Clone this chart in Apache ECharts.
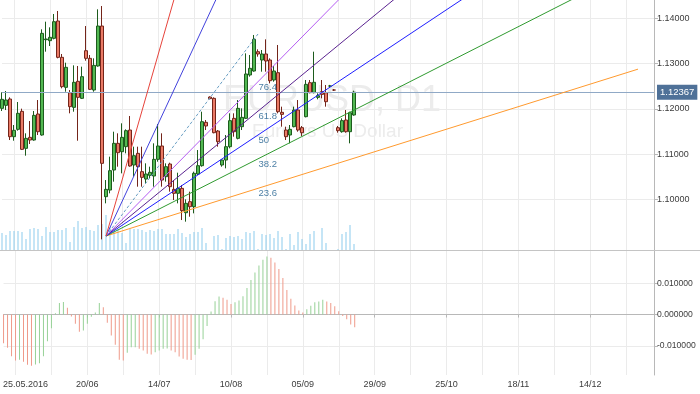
<!DOCTYPE html>
<html><head><meta charset="utf-8">
<script src="https://cdn.jsdelivr.net/npm/echarts@6/dist/echarts.min.js"></script>
<style>html,body{margin:0;padding:0;background:#fff}#c{width:700px;height:394px}</style>
</head><body><div id="c"></div>
<script>
// trading days (category axis), incl. empty future space
const categories = [
'2016-05-20',
'2016-05-23','2016-05-24','2016-05-25','2016-05-26','2016-05-27',
'2016-05-30','2016-05-31','2016-06-01','2016-06-02','2016-06-03',
'2016-06-06','2016-06-07','2016-06-08','2016-06-09','2016-06-10',
'2016-06-13','2016-06-14','2016-06-15','2016-06-16','2016-06-17',
'2016-06-20','2016-06-21','2016-06-22','2016-06-23','2016-06-24',
'2016-06-27','2016-06-28','2016-06-29','2016-06-30','2016-07-01',
'2016-07-04','2016-07-05','2016-07-06','2016-07-07','2016-07-08',
'2016-07-11','2016-07-12','2016-07-13','2016-07-14','2016-07-15',
'2016-07-18','2016-07-19','2016-07-20','2016-07-21','2016-07-22',
'2016-07-25','2016-07-26','2016-07-27','2016-07-28','2016-07-29',
'2016-08-02','2016-08-03','2016-08-04','2016-08-05',
'2016-08-08','2016-08-09','2016-08-10','2016-08-11','2016-08-12',
'2016-08-15','2016-08-16','2016-08-17','2016-08-18','2016-08-19',
'2016-08-22','2016-08-23','2016-08-24','2016-08-25','2016-08-26',
'2016-08-29','2016-08-30','2016-08-31','2016-09-01','2016-09-02',
'2016-09-05','2016-09-06','2016-09-07','2016-09-08','2016-09-09',
'2016-09-12','2016-09-13','2016-09-14','2016-09-15','2016-09-16',
'2016-09-19','2016-09-20','2016-09-21','2016-09-22','2016-09-23',
'2016-09-26','2016-09-27','2016-09-28','2016-09-29','2016-09-30',
'2016-10-03','2016-10-04','2016-10-05','2016-10-06','2016-10-07',
'2016-10-10','2016-10-11','2016-10-12','2016-10-13','2016-10-14',
'2016-10-17','2016-10-18','2016-10-19','2016-10-20','2016-10-21',
'2016-10-24','2016-10-25','2016-10-26','2016-10-27','2016-10-28',
'2016-10-31','2016-11-01','2016-11-02','2016-11-03','2016-11-04',
'2016-11-07','2016-11-08','2016-11-09','2016-11-10','2016-11-11',
'2016-11-14','2016-11-15','2016-11-16','2016-11-17','2016-11-18',
'2016-11-21','2016-11-22','2016-11-23','2016-11-24','2016-11-25',
'2016-11-28','2016-11-29','2016-11-30','2016-12-01','2016-12-02',
'2016-12-05','2016-12-06','2016-12-07','2016-12-08','2016-12-09',
'2016-12-12','2016-12-13','2016-12-14','2016-12-15','2016-12-16',
'2016-12-19','2016-12-20','2016-12-21','2016-12-22','2016-12-23',
'2016-12-26','2016-12-27','2016-12-28','2016-12-29','2016-12-30',
'2017-01-02','2017-01-03','2017-01-04','2017-01-05'
];

// [open, close, low, high]
const candles = [
[1.12010,1.12209,1.11951,1.12364],[1.12076,1.12194,1.11973,1.12393],[1.12216,1.11384,1.11310,1.12253],
[1.11384,1.11524,1.11295,1.11642],[1.11546,1.11900,1.11517,1.12150],[1.11944,1.11104,1.11089,1.12003],
[1.11126,1.11347,1.10964,1.11458],[1.11369,1.11310,1.11222,1.11730],[1.11310,1.11855,1.11295,1.11951],
[1.11885,1.11494,1.11421,1.12194],[1.11421,1.13667,1.11406,1.13756],[1.13527,1.13542,1.13262,1.13925],
[1.13505,1.13579,1.13387,1.13800],[1.13557,1.13925,1.13535,1.14095],[1.13940,1.13137,1.13115,1.14161],
[1.13137,1.12489,1.12452,1.13211],[1.12474,1.12916,1.12378,1.13019],[1.12356,1.12047,1.11900,1.12415],
[1.12032,1.12585,1.11936,1.12960],[1.12607,1.12253,1.11295,1.12946],[1.12231,1.12710,1.12216,1.12931],
[1.13284,1.13115,1.13063,1.13829],[1.13115,1.12430,1.12415,1.13189],[1.12415,1.12960,1.12378,1.13115],
[1.12946,1.13829,1.12931,1.14198],[1.13829,1.10795,1.09115,1.14271],[1.10058,1.10220,1.09911,1.10426],
[1.10205,1.10633,1.10132,1.10942],[1.10647,1.11237,1.10390,1.11494],[1.11237,1.11030,1.10721,1.11458],
[1.11052,1.11369,1.10574,1.11679],[1.11163,1.11517,1.11016,1.11546],[1.11531,1.10736,1.10721,1.11841],
[1.10758,1.10964,1.10500,1.11163],[1.11016,1.10721,1.10279,1.11163],[1.10611,1.10485,1.10279,1.11163],
[1.10448,1.10559,1.10353,1.10795],[1.10529,1.10596,1.10463,1.10721],[1.10515,1.10883,1.10279,1.11237],
[1.10883,1.11178,1.10831,1.11664],[1.11178,1.10426,1.10279,1.11458],[1.10500,1.10721,1.10390,1.10795],
[1.10780,1.10279,1.10169,1.10809],[1.10220,1.10132,1.09984,1.10426],[1.10132,1.10242,1.09911,1.10588],
[1.10242,1.09749,1.09542,1.10316],[1.09704,1.09911,1.09506,1.09999],[1.09948,1.09837,1.09616,1.10169],
[1.09837,1.10574,1.09690,1.10611],[1.10559,1.10743,1.10537,1.11089],[1.10743,1.11715,1.10721,1.11936],
[1.11701,1.11620,1.11531,1.11752],[1.12260,1.12224,1.12209,1.12275],[1.12231,1.11472,1.11458,1.12253],
[1.11509,1.11273,1.11163,1.11531],[1.10758,1.10868,1.10721,1.10883],[1.10868,1.11163,1.10684,1.11421],
[1.11163,1.11738,1.11126,1.11900],[1.11789,1.11494,1.11384,1.11900],[1.11347,1.12010,1.11325,1.12194],
[1.11605,1.11811,1.11531,1.12010],[1.11789,1.12769,1.11774,1.13225],[1.12747,1.12894,1.12710,1.13189],
[1.12835,1.13535,1.12820,1.13631],[1.13262,1.13211,1.13152,1.13314],[1.13078,1.13211,1.12820,1.13299],
[1.13211,1.13056,1.12820,1.13535],[1.13078,1.12621,1.12562,1.13115],[1.12636,1.12835,1.12599,1.12946],
[1.12798,1.11936,1.11900,1.13410],[1.11922,1.11877,1.11605,1.12047],[1.11531,1.11384,1.11310,1.11605],
[1.11421,1.11546,1.11237,1.11642],[1.11605,1.11973,1.11590,1.12047],[1.11973,1.11531,1.11494,1.12194],
[1.11583,1.11472,1.11399,1.11620],[1.11826,1.12540,1.11811,1.12636],[1.12577,1.12356,1.12342,1.12636],
[1.12356,1.12585,1.12342,1.13262],[1.12253,1.12290,1.12209,1.12342],[1.12378,1.12319,1.12231,1.12636],
[1.12356,1.12157,1.12047,1.12526],[1.12504,1.12504,1.12480,1.12528],[1.12415,1.12415,1.12393,1.12437],
[1.11583,1.11517,1.11472,1.11620],[1.11494,1.11738,1.11472,1.11789],[1.11752,1.11494,1.11472,1.11973],
[1.11494,1.11914,1.11237,1.11936],[1.11863,1.12367,1.11848,1.12400]
];

// tick volume (thousands)
const volumes = [
17,15,19,19,19,18,11,21,22,21,
14,23,18,18,20,20,22,8,23,29,
22,23,20,19,25,26,35,23,22,21,
17,7,21,21,21,20,18,20,19,21,
21,16,16,16,21,17,13,16,18,18,
22,7,0,14,15,1,12,14,13,14,
11,18,17,19,1,16,15,16,12,19,
13,1,16,5,18,11,6,16,19,0,
22,7,0,0,1,16,18,25,6
];

// MACD histogram
const macdHist = [
-0.00915,-0.01064,-0.01330,-0.01468,-0.01447,-0.01511,-0.01606,-0.01638,-0.01596,-0.01553,
-0.01330,-0.00851,-0.00436,0.00043,0.00372,0.00404,0.00213,-0.00064,-0.00298,-0.00553,
-0.00511,-0.00298,-0.00074,0.00064,0.00372,0.00234,-0.00266,-0.00670,-0.00968,-0.01447,
-0.01468,-0.01223,-0.01043,-0.01043,-0.01096,-0.01149,-0.01255,-0.01277,-0.01202,-0.01149,
-0.01096,-0.01085,-0.01149,-0.01202,-0.01340,-0.01415,-0.01447,-0.01450,-0.01287,-0.01096,
-0.00787,-0.00362,0.00096,0.00426,0.00574,0.00532,0.00468,0.00340,0.00394,0.00447,
0.00585,0.00851,0.01106,0.01340,0.01564,0.01745,0.01851,0.01809,0.01660,0.01457,
0.01170,0.00787,0.00500,0.00287,0.00128,0.00064,0.00170,0.00277,0.00394,0.00415,
0.00468,0.00415,0.00372,0.00266,0.00106,-0.00043,-0.00149,-0.00319,-0.00404
];

const priceTicks = [1.10, 1.11, 1.12, 1.13, 1.14];
const macdTicks = [-0.01, 0, 0.01];
const lastPrice = 1.12367;

// Fibonacci fan: anchor low -> anchor high, levels
const fanStart = [26, 1.09189];
const fanEnd = [64, 1.13653];
const fanLevels = [0.236, 0.382, 0.5, 0.618, 0.764, 1, 1.618, 2.618];
const fanLabelLevels = [0.236, 0.382, 0.5, 0.618, 0.764];
const fanLastIndex = 159;

const titleText = 'EURUSD, D1';
const subtitleText = 'Euro vs US Dollar';

const fanColors = {
  0.236: '#ff9a2e', 0.382: '#2f9a2f', 0.5: '#1e1eff', 0.618: '#5a2390',
  0.764: '#b55cf2', 1: '#6a9fc4', 1.618: '#4242dc', 2.618: '#e6433b'
};
const FONT = 'Liberation Sans';
const labelEvery = (i) => i >= 3 && (i - 3) % 18 === 0;
const gridEvery = (i) => i >= 3 && (i - 3) % 9 === 0;
const fmtDate = (v, i) => {
  const p = v.split('-');
  return i === 3 ? '{first|' + p[2] + '.' + p[1] + '.' + p[0] + '}' : p[2] + '/' + p[1];
};

const slope = (fanEnd[1] - fanStart[1]) / (fanEnd[0] - fanStart[0]);
const fanSeries = fanLevels.map(r => {
  const endIdx = r === 1 ? fanEnd[0] : fanLastIndex;
  return {
    type: 'line', xAxisIndex: 0, yAxisIndex: 0, silent: true, z: 5,
    symbol: 'none', clip: true,
    data: [fanStart, [endIdx, fanStart[1] + r * slope * (endIdx - fanStart[0])]],
    lineStyle: { color: fanColors[r], width: 1, type: r === 1 ? [3, 2] : 'solid' }
  };
});

const chart = echarts.init(document.getElementById('c'), null, { renderer: 'canvas' });
chart.setOption({
  animation: false,
  backgroundColor: '#ffffff',
  textStyle: { fontFamily: FONT },
  graphic: [
    { type: 'text', x: 223, y: 101, z: 0, silent: true,
      style: { text: titleText, font: '36px "Liberation Sans"', fill: '#ececec', textAlign: 'left', textVerticalAlign: 'middle' } },
    { type: 'text', x: 252, y: 132, z: 0, silent: true,
      style: { text: subtitleText, font: '19px "Liberation Sans"', fill: '#ececec', textAlign: 'left', textVerticalAlign: 'middle' } },
    { type: 'line', z: 10, silent: true, shape: { x1: 0, y1: 250.5, x2: 700, y2: 250.5 },
      style: { stroke: '#c4c4c4', lineWidth: 1 } }
  ],
  grid: [
    { left: 2, right: 46, top: 0, height: 250 },
    { left: 2, right: 46, top: 250, height: 125 }
  ],
  xAxis: [
    { type: 'category', gridIndex: 0, data: categories, boundaryGap: false,
      axisLine: { show: false }, axisTick: { show: false }, axisLabel: { show: false },
      splitLine: { show: true, interval: gridEvery, lineStyle: { color: '#ebebeb', width: 1 } } },
    { type: 'category', gridIndex: 1, data: categories, boundaryGap: false,
      axisLine: { show: true, lineStyle: { color: '#b8b8b8' } },
      axisTick: { show: true, interval: labelEvery, length: 3, lineStyle: { color: '#b8b8b8' } },
      axisLabel: { show: true, interval: labelEvery, formatter: fmtDate, color: '#3c3c3c',
        fontSize: 9, fontFamily: FONT, margin: 5,
        rich: { first: { fontSize: 9, fontFamily: FONT, color: '#3c3c3c', padding: [0, 0, 0, 20] } } },
      splitLine: { show: true, interval: gridEvery, lineStyle: { color: '#ebebeb', width: 1 } } }
  ],
  yAxis: [
    { type: 'value', gridIndex: 0, position: 'right', min: 1.0888, max: 1.14404, scale: true,
      axisLine: { show: true, lineStyle: { color: '#b8b8b8' } },
      axisTick: { show: true, length: 4, customValues: priceTicks, lineStyle: { color: '#b8b8b8' } },
      axisLabel: { show: true, customValues: priceTicks, formatter: v => v.toFixed(5),
        color: '#3c3c3c', fontSize: 9, fontFamily: FONT, margin: 3 },
      splitLine: { show: true, lineStyle: { color: '#ebebeb', width: 1 } } },
    { type: 'value', gridIndex: 0, position: 'right', min: 0, max: 250, show: false,
      splitLine: { show: false } },
    { type: 'value', gridIndex: 1, position: 'right', min: -0.0193, max: 0.0206,
      axisLine: { show: true, lineStyle: { color: '#b8b8b8' } },
      axisTick: { show: true, length: 4, customValues: macdTicks, lineStyle: { color: '#b8b8b8' } },
      axisLabel: { show: true, customValues: macdTicks, formatter: v => v.toFixed(6),
        color: '#3c3c3c', fontSize: 8.6, fontFamily: FONT, margin: 3 },
      splitLine: { show: true, lineStyle: { color: '#ebebeb', width: 1 } } }
  ],
  series: [
    { type: 'bar', name: 'volume', xAxisIndex: 0, yAxisIndex: 1, data: volumes, barWidth: 1, z: 1,
      silent: true, itemStyle: { color: '#8ccbee' } },
    { type: 'candlestick', name: 'EURUSD', xAxisIndex: 0, yAxisIndex: 0, data: candles, barWidth: 3, z: 3,
      silent: true,
      itemStyle: { color: '#52b852', color0: '#ea7a66', borderColor: '#1d5c1d', borderColor0: '#74251a', borderWidth: 1 },
      markLine: { silent: true, symbol: 'none', animation: false, precision: 5,
        data: [{ yAxis: lastPrice }],
        lineStyle: { color: '#90a9c6', width: 1, type: 'solid' },
        label: { show: true, position: 'end', distance: 3, formatter: p => Number(p.value).toFixed(5),
          color: '#ffffff', backgroundColor: '#4f7198', padding: [3, 3, 2, 3], fontSize: 9.5, fontFamily: FONT } } },
    ...fanSeries,
    { type: 'scatter', xAxisIndex: 0, yAxisIndex: 0, silent: true, z: 6, symbolSize: 1,
      itemStyle: { color: 'rgba(0,0,0,0)' },
      data: fanLabelLevels.map(r => ({ value: [fanEnd[0], fanStart[1] + r * (fanEnd[1] - fanStart[1])], lvl: r })),
      label: { show: true, position: [1, 6], align: 'left', verticalAlign: 'middle',
        formatter: p => String(+(p.data.lvl * 100).toFixed(1)),
        color: '#1c5d8c', fontSize: 9.5, fontFamily: FONT } },
    { type: 'bar', name: 'macd', xAxisIndex: 1, yAxisIndex: 2, barWidth: 1, silent: true,
      data: macdHist.map((v, i) => ({ value: v,
        itemStyle: { color: (i === 0 || v < macdHist[i - 1]) ? '#ef9a8a' : '#97d197' } })) }
  ]
});
</script>
</body></html>
